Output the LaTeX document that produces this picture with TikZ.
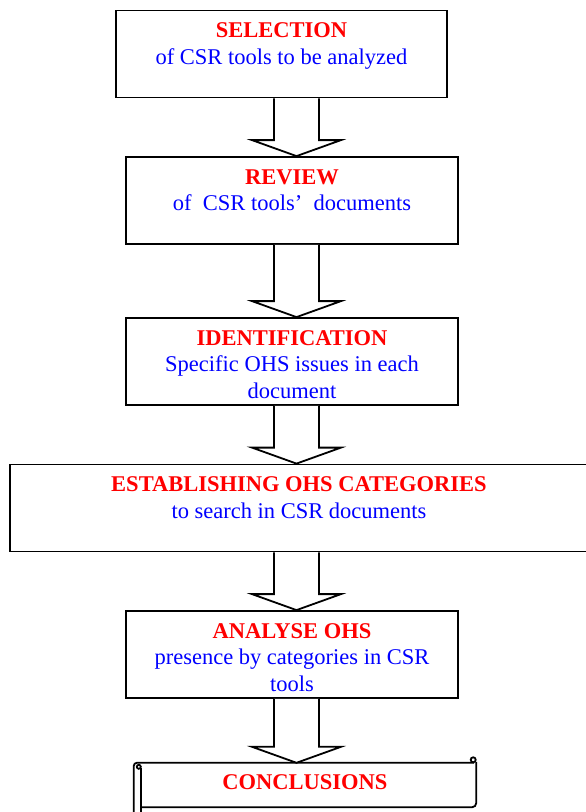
\documentclass[tikz,border=0pt]{standalone}
\usepackage{fontspec}
\setmainfont{Liberation Serif}
\usetikzlibrary{calc, positioning}
\tikzset{
    stepbox/.style={draw, line width=1.8pt, minimum height=87pt, inner sep=0pt},
    steptext/.style={align=center, inner sep=0pt, font=\fontsize{22.5}{26.5}\selectfont},
    arrowline/.style={draw, line width=1.8pt, fill=white},
    scrollline/.style={draw, line width=1.8pt}
}
\newcommand{\hd}[1]{\textcolor{red}{\textbf{#1}}}
\newcommand{\bodytext}[1]{\textcolor{blue}{#1}}
% block arrow from the bottom of one box to the top of the next
\newcommand{\flowarrow}[2]{%
    \draw[arrowline] let \p1=(#1.south -| axis), \p2=(#2.north -| axis) in
        (\x1-22.5pt,\y1) -- (\x1-22.5pt,\y2+16pt) -- (\x1-44.5pt,\y2+16pt) -- (\x2,\y2)
        -- (\x1+44.5pt,\y2+16pt) -- (\x1+22.5pt,\y2+16pt) -- (\x1+22.5pt,\y1);}

\begin{document}
\begin{tikzpicture}[x=1pt, y=-1pt]
      \useasboundingbox (0,0) rectangle (586,812);
      \clip (0,0) rectangle (586,812);
      \coordinate (axis) at (296.5,0);

      \node[stepbox, minimum width=331pt] (sel) at (281.5,54) {};
      \node[steptext, below=13pt of sel.north] (seltxt) {\hd{SELECTION}\\\bodytext{of CSR tools to be analyzed}};

      \node[stepbox, minimum width=332pt] (rev) at (292,200.5) {};
      \node[steptext, below=13pt of rev.north] (revtxt) {\hd{REVIEW}\\\bodytext{of\ \ CSR tools'\ \ documents}};

      \node[stepbox, minimum width=332pt] (ident) at (292,361.5) {};
      \node[steptext, below=13pt of ident.north] (identtxt) {\hd{IDENTIFICATION}\\\bodytext{Specific OHS issues in each}\\\bodytext{document}};

      \node[stepbox, minimum width=578pt] (categ) at (299,508) {};
      \node[steptext, below=13pt of categ.north] (categtxt) {\hd{ESTABLISHING OHS CATEGORIES}\\\bodytext{to search in CSR documents}};

      \node[stepbox, minimum width=332pt] (analyse) at (292,654.5) {};
      \node[steptext, below=13pt of analyse.north] (analysetxt) {\hd{ANALYSE OHS}\\\bodytext{presence by categories in CSR}\\\bodytext{tools}};

      % scroll at the bottom
      \node[minimum width=342pt, minimum height=50pt, inner sep=0pt] (concl) at (305,788) {};
      \node[steptext, below=12pt of concl.north] (concltxt) {\hd{CONCLUSIONS}};
      \draw[scrollline, rounded corners=3pt] ($(concl.south west)+(0,5)$) |- ($(concl.north east)+(-2,0)$);
      \draw[scrollline, rounded corners=4pt] ($(concl.north east)+(0,-1)$) |- ($(concl.south west)+(7,-6)$);
      \draw[scrollline] ($(concl.north west)+(7,5)$) -- ($(concl.south west)+(7,5)$);
      \draw[scrollline] ($(concl.north east)+(-3,-3)$) circle (2.5pt);
      \draw[scrollline] ($(concl.north west)+(5,4)$) circle (2pt);

      \flowarrow{sel}{rev}
      \flowarrow{rev}{ident}
      \flowarrow{ident}{categ}
      \flowarrow{categ}{analyse}
      \flowarrow{analyse}{concl}
\end{tikzpicture}
\end{document}
